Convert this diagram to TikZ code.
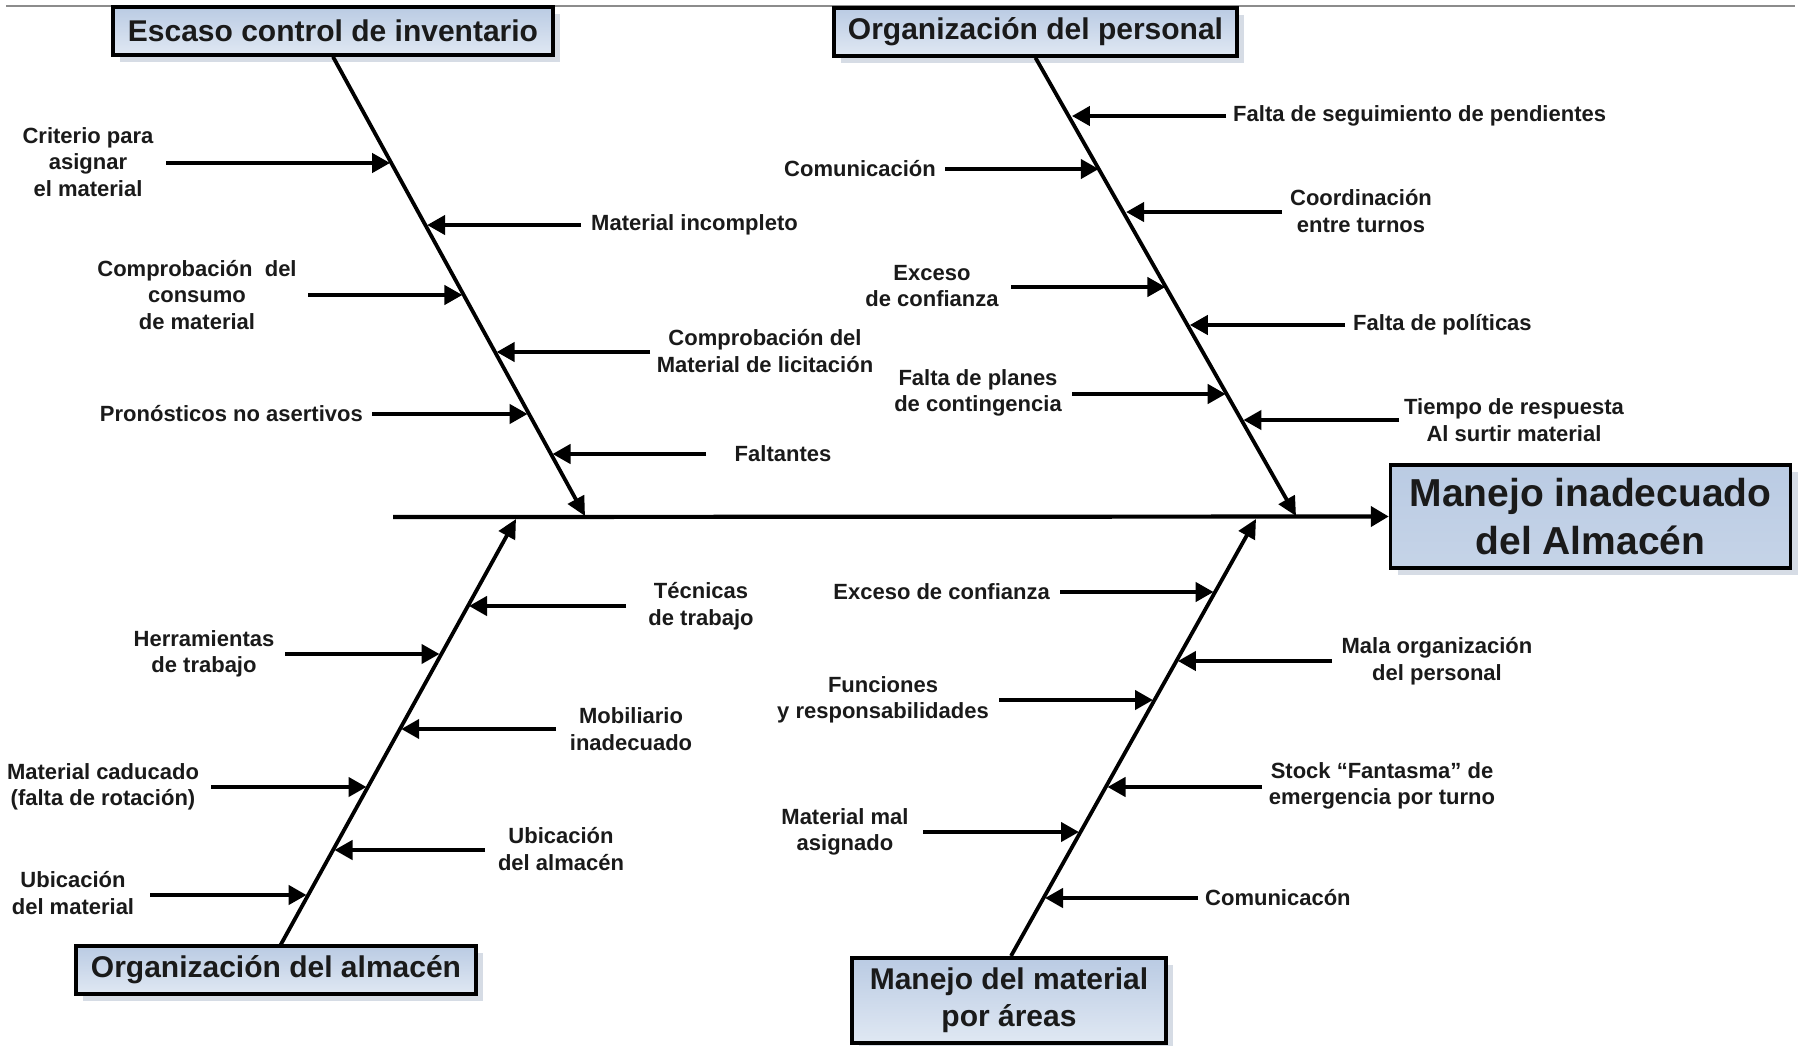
\documentclass[tikz,border=0pt]{standalone}
\usepackage{fontspec}
\setmainfont{Liberation Sans}
\usetikzlibrary{arrows.meta,shadows}
\definecolor{boxtop}{HTML}{BACBE3}
\definecolor{boxbot}{HTML}{E0E8F3}
\definecolor{ink}{HTML}{1A1A1A}
\definecolor{shadowc}{HTML}{CCD4DF}
\begin{document}
\begin{tikzpicture}[x=1pt,y=-1pt,
  lbl/.style={font=\bfseries\fontsize{22}{26.5}\selectfont, text=ink, align=center, inner sep=0pt},
  cat/.style={draw=black, line width=3.5pt, top color=boxtop, bottom color=boxbot,
    font=\bfseries\fontsize{30}{37}\selectfont, text=ink, align=center, inner sep=0pt,
    drop shadow={shadow xshift=7pt, shadow yshift=-7pt, fill=shadowc, opacity=0.8}},
  bone/.style={line width=3.8pt, -{Triangle[length=19pt,width=18pt]}},
  sub/.style={line width=4.2pt, -{Triangle[length=18pt,width=19pt]}, shorten >=1.5pt},
]
\useasboundingbox[fill=white] (0,0) rectangle (1801,1045);
\draw[black!45, line width=1.5pt] (6,6) -- (1795,6);

% category boxes
\node[cat, minimum width=440pt, minimum height=48pt] (c1) at (333,31) {Escaso control de inventario};
\node[cat, minimum width=403pt, minimum height=48pt] (c2) at (1035.5,32) {Organización del personal};
\node[cat, minimum width=400pt, minimum height=48pt] (c3) at (276,970) {Organización del almacén};
\node[cat, minimum width=314pt, minimum height=85pt] (c4) at (1009,1000.5) {Manejo del material\\por áreas};
\node[cat, minimum width=400pt, minimum height=103pt, font=\bfseries\fontsize{39}{48}\selectfont,
  top color=boxtop, bottom color=boxtop!70!boxbot] (eff) at (1590.5,516.5) {Manejo inadecuado\\del Almacén};

% spine
\coordinate (sp0) at (393,517);
\draw[line width=4.2pt, -{Triangle[length=18pt,width=20pt]}] (sp0) -- (eff.west);

% bones
\coordinate (t1) at (585,516);
\coordinate (t2) at (1296,516);
\coordinate (s3) at (280,946);
\coordinate (t3) at (516,519);
\coordinate (s4) at (1011,956);
\coordinate (t4) at (1256,519);
\draw[bone] (c1.south) -- (t1);
\draw[bone] (c2.south) -- (t2);
\draw[bone] (s3) -- (t3);
\draw[bone] (s4) -- (t4);

% ---- bone 1 causes
\node[lbl] (l11) at (88,162) {Criterio para\\asignar\\el material};
\node[lbl, anchor=west] (l12) at (591,225) {Material incompleto};
\node[lbl] (l13) at (197,295) {Comprobación~ del\\consumo\\de material};
\node[lbl] (l14) at (765,351) {Comprobación del\\Material de licitación};
\node[lbl, anchor=east] (l15) at (363,414) {Pronósticos no asertivos};
\node[lbl] (l16) at (783,454) {Faltantes};
\coordinate (a11) at (166,163);  \coordinate (e11) at (391.6,163);
\coordinate (a12) at (581,225);  \coordinate (e12) at (425.6,225);
\coordinate (a13) at (308,295);  \coordinate (e13) at (463.9,295);
\coordinate (a14) at (650,352);  \coordinate (e14) at (495.1,352);
\coordinate (a15) at (372,414);  \coordinate (e15) at (529.1,414);
\coordinate (a16) at (706,454);  \coordinate (e16) at (551.0,454);
\foreach \i in {11,12,13,14,15,16} \draw[sub] (a\i) -- (e\i);

% ---- bone 2 causes
\node[lbl, anchor=west] (l21) at (1233,116) {Falta de seguimiento de pendientes};
\node[lbl, anchor=east] (l22) at (936,169) {Comunicación};
\node[lbl] (l23) at (1361,211) {Coordinación\\entre turnos};
\node[lbl] (l24) at (932,286) {Exceso\\de confianza};
\node[lbl, anchor=west] (l25) at (1353,325) {Falta de políticas};
\node[lbl] (l26) at (978,393) {Falta de planes\\de contingencia};
\node[lbl] (l27) at (1514,420) {Tiempo de respuesta\\Al surtir material};
\coordinate (a21) at (1226,116); \coordinate (e21) at (1070.4,116);
\coordinate (a22) at (945,169);  \coordinate (e22) at (1100.3,169);
\coordinate (a23) at (1282,212); \coordinate (e23) at (1124.6,212);
\coordinate (a24) at (1011,287); \coordinate (e24) at (1166.9,287);
\coordinate (a25) at (1345,325); \coordinate (e25) at (1188.3,325);
\coordinate (a26) at (1072,394); \coordinate (e26) at (1227.2,394);
\coordinate (a27) at (1399,420); \coordinate (e27) at (1241.9,420);
\foreach \i in {21,22,23,24,25,26,27} \draw[sub] (a\i) -- (e\i);

% ---- bone 3 causes
\node[lbl] (l31) at (701,606) {Técnicas\\de trabajo};
\node[lbl] (l32) at (204,654) {Herramientas\\de trabajo};
\node[lbl] (l33) at (631,729) {Mobiliario\\inadecuado};
\node[lbl] (l34) at (103,787) {Material caducado\\(falta de rotación)};
\node[lbl] (l35) at (561,849) {Ubicación\\del almacén};
\node[lbl] (l36) at (73,893) {Ubicación\\del material};
\coordinate (a31) at (626,606);  \coordinate (e31) at (467.5,606);
\coordinate (a32) at (285,654);  \coordinate (e32) at (441.0,654);
\coordinate (a33) at (556,729);  \coordinate (e33) at (399.7,729);
\coordinate (a34) at (211,787);  \coordinate (e34) at (368.0,787);
\coordinate (a35) at (485,850);  \coordinate (e35) at (333.0,850);
\coordinate (a36) at (150,895);  \coordinate (e36) at (308.1,895);
\foreach \i in {31,32,33,34,35,36} \draw[sub] (a\i) -- (e\i);

% ---- bone 4 causes
\node[lbl, anchor=east] (l41) at (1050,592) {Exceso de confianza};
\node[lbl] (l42) at (1437,661) {Mala organización\\del personal};
\node[lbl] (l43) at (883,700) {Funciones\\y responsabilidades};
\node[lbl] (l44) at (1382,786) {Stock “Fantasma” de\\emergencia por turno};
\node[lbl] (l45) at (845,832) {Material mal\\asignado};
\node[lbl, anchor=west] (l46) at (1205,898) {Comunicacón};
\coordinate (a41) at (1060,592); \coordinate (e41) at (1215.1,592);
\coordinate (a42) at (1332,661); \coordinate (e42) at (1176.4,661);
\coordinate (a43) at (999,700);  \coordinate (e43) at (1154.5,700);
\coordinate (a44) at (1262,787); \coordinate (e44) at (1106.0,787);
\coordinate (a45) at (923,832);  \coordinate (e45) at (1080.5,832);
\coordinate (a46) at (1198,898); \coordinate (e46) at (1043.5,898);
\foreach \i in {41,42,43,44,45,46} \draw[sub] (a\i) -- (e\i);
\end{tikzpicture}
\end{document}
